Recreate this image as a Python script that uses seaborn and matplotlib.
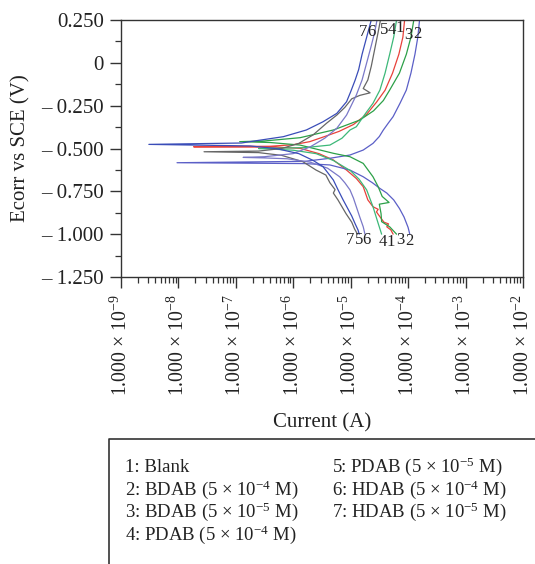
import numpy as np
import pandas as pd
import matplotlib
matplotlib.use("Agg")
import matplotlib.pyplot as plt
import seaborn as sns
from matplotlib.ticker import MultipleLocator, LogLocator, FixedLocator, NullFormatter
from matplotlib.lines import Line2D

# ---------------- data (log10 current in A, potential in V vs SCE) ----------------
curve_ids = ["1", "2", "3", "4", "5", "6", "7"]
curve_colors = ["#e8413a", "#5b5fc7", "#2ca048", "#3cb878", "#666666", "#7a78c8", "#3a4db8"]

logI_1 = [-4.26, -4.30, -4.37, -4.34, -4.42, -4.49, -4.55, -4.52, -4.61, -4.70, -4.78, -4.90,
          -5.07, -5.30, -5.55, -5.88, -6.3, -7.73, -6.4, -6.0, -5.71, -5.45, -5.20, -4.95, -4.72,
          -4.55, -4.40, -4.27, -4.16, -4.09, -4.06]
E_1 = [-1.0, -0.975, -0.957, -0.94, -0.93, -0.898, -0.87, -0.855, -0.84, -0.80, -0.723, -0.675,
       -0.626, -0.567, -0.53, -0.499, -0.492, -0.49, -0.487, -0.478, -0.46, -0.43, -0.40, -0.36,
       -0.30, -0.23, -0.16, -0.06, 0.05, 0.15, 0.25]

logI_2 = [-3.97, -4.00, -4.07, -4.15, -4.25, -4.37, -4.49, -4.62, -4.78, -5.01, -5.36, -5.8,
          -8.02, -5.8, -5.36, -5.01, -4.78, -4.61, -4.50, -4.43, -4.34, -4.26, -4.14, -4.03, -3.95,
          -3.88, -3.83, -3.80]
E_2 = [-1.0, -0.96, -0.90, -0.85, -0.80, -0.76, -0.733, -0.70, -0.665, -0.626, -0.596, -0.588,
       -0.583, -0.575, -0.557, -0.538, -0.509, -0.47, -0.43, -0.392, -0.35, -0.314, -0.236,
       -0.159, -0.06, 0.05, 0.15, 0.25]

logI_3 = [-4.20, -4.32, -4.46, -4.47, -4.50, -4.33, -4.45, -4.52, -4.61, -4.78, -5.01, -5.30,
          -5.88, -6.4, -6.93, -6.5, -5.88, -5.30, -4.84, -4.60, -4.43, -4.32, -4.15, -4.03, -3.95,
          -3.90]
E_3 = [-1.0, -0.957, -0.927, -0.88, -0.825, -0.815, -0.78, -0.723, -0.665, -0.587, -0.548,
       -0.528, -0.48, -0.465, -0.46, -0.456, -0.437, -0.392, -0.334, -0.28, -0.22, -0.159, -0.06,
       0.05, 0.15, 0.25]

logI_4 = [-4.46, -4.52, -4.61, -4.72, -4.85, -5.0, -5.3, -5.6, -6.0, -6.4, -6.6, -5.8, -5.36,
          -5.15, -5.01, -4.90, -4.75, -4.61, -4.49, -4.40, -4.32, -4.25, -4.20]
E_4 = [-1.0, -0.937, -0.84, -0.742, -0.68, -0.63, -0.57, -0.53, -0.51, -0.503, -0.50, -0.495,
       -0.48, -0.44, -0.392, -0.373, -0.30, -0.236, -0.159, -0.06, 0.05, 0.15, 0.25]

logI_5 = [-4.88, -4.93, -4.98, -5.08, -5.15, -5.22, -5.30, -5.27, -5.36, -5.43, -5.6, -5.83,
          -6.2, -6.6, -7.55, -6.6, -6.2, -5.9, -5.65, -5.42, -5.24, -5.10, -4.98, -4.84, -4.66,
          -4.78, -4.70, -4.64, -4.58, -4.52, -4.48]
E_5 = [-1.0, -0.97, -0.93, -0.88, -0.84, -0.80, -0.76, -0.74, -0.70, -0.655, -0.626, -0.577,
       -0.54, -0.524, -0.519, -0.515, -0.50, -0.47, -0.42, -0.353, -0.305, -0.26, -0.21, -0.19,
       -0.175, -0.15, -0.10, -0.02, 0.08, 0.18, 0.25]

logI_6 = [-4.75, -4.78, -4.84, -4.90, -4.95, -5.01, -5.10, -5.19, -5.4, -5.7, -6.1, -6.5, -6.87,
          -6.5, -6.0, -5.7, -5.45, -5.24, -5.07, -4.90, -4.80, -4.72, -4.64, -4.58, -4.54]
E_6 = [-1.0, -0.957, -0.90, -0.84, -0.79, -0.742, -0.70, -0.665, -0.615, -0.58, -0.56, -0.555,
       -0.552, -0.548, -0.53, -0.49, -0.44, -0.382, -0.305, -0.188, -0.10, 0.0, 0.10, 0.18, 0.25]

logI_7 = [-4.85, -4.87, -4.92, -4.98, -5.05, -5.13, -5.22, -5.30, -5.40, -5.48, -5.65, -5.9,
          -6.3, -6.75, -8.51, -6.9, -6.75, -6.17, -5.77, -5.48, -5.24, -5.07, -5.00, -4.92, -4.86,
          -4.80, -4.72, -4.64]
E_7 = [-1.0, -0.976, -0.94, -0.894, -0.85, -0.80, -0.74, -0.684, -0.64, -0.606, -0.57, -0.53,
       -0.50, -0.485, -0.476, -0.468, -0.46, -0.431, -0.392, -0.344, -0.295, -0.227, -0.17, -0.10,
       -0.04, 0.05, 0.15, 0.25]

# curve number annotations (log10 current, potential)
top_label_logI = [-4.14, -3.83, -4.00, -4.28, -4.42, -4.63, -4.79]
top_label_E = [0.205, 0.170, 0.160, 0.190, 0.190, 0.180, 0.180]
bot_label_logI = [-4.30, -3.97, -4.14, -4.44, -4.86, -4.72, -5.01]
bot_label_E = [-1.045, -1.040, -1.034, -1.045, -1.034, -1.032, -1.034]

ytick_values = [0.25, 0.0, -0.25, -0.5, -0.75, -1.0, -1.25]
ytick_labels = ["0.250", "0", "\u2013 0.250", "\u2013 0.500", "\u2013 0.750", "\u2013 1.000", "\u2013 1.250"]
xtick_exponents = [-9, -8, -7, -6, -5, -4, -3, -2]

legend_left = ["1: Blank", "2: BDAB (5 \u00d7 10$^{-4}$ M)", "3: BDAB (5 \u00d7 10$^{-5}$ M)",
               "4: PDAB (5 \u00d7 10$^{-4}$ M)"]
legend_right = ["5: PDAB (5 \u00d7 10$^{-5}$ M)", "6: HDAB (5 \u00d7 10$^{-4}$ M)",
                "7: HDAB (5 \u00d7 10$^{-5}$ M)"]

all_logI = [logI_1, logI_2, logI_3, logI_4, logI_5, logI_6, logI_7]
all_E = [E_1, E_2, E_3, E_4, E_5, E_6, E_7]

# ---------------- style ----------------
sns.set_theme(style="ticks")
plt.rcParams["font.family"] = ["Liberation Serif", "DejaVu Serif"]
plt.rcParams["mathtext.fontset"] = "custom"
plt.rcParams["mathtext.rm"] = "Liberation Serif"
plt.rcParams["mathtext.it"] = "Liberation Serif:italic"
plt.rcParams["mathtext.bf"] = "Liberation Serif:bold"
plt.rcParams["mathtext.fallback"] = "stix"
plt.rcParams["mathtext.default"] = "regular"

W, H = 535, 564
fig = plt.figure(figsize=(W / 100, H / 100), dpi=100)
ax_l, ax_r, ax_t, ax_b = 120.7, 523.0, 20.0, 277.0
ax = fig.add_axes([ax_l / W, 1 - ax_b / H, (ax_r - ax_l) / W, (ax_b - ax_t) / H])

for cid, col, li, ee in zip(curve_ids, curve_colors, all_logI, all_E):
    df = pd.DataFrame({"current": np.power(10.0, np.array(li)), "E": ee})
    sns.lineplot(data=df, x="current", y="E", sort=False, estimator=None, color=col,
                 linewidth=0.9, ax=ax, legend=False)

ax.set_xscale("log")
ax.set_xlim(1e-9, 1e-2)
ax.set_ylim(-1.25, 0.25)

for cid, li, ee in zip(curve_ids, top_label_logI, top_label_E):
    ax.text(10 ** li, ee, cid, ha="center", va="center", fontsize=12, color="#222222")
for cid, li, ee in zip(curve_ids, bot_label_logI, bot_label_E):
    ax.text(10 ** li, ee, cid, ha="center", va="center", fontsize=12, color="#222222")

ax.yaxis.set_major_locator(FixedLocator(ytick_values))
ax.set_yticklabels(ytick_labels)
ax.yaxis.set_minor_locator(MultipleLocator(0.125))
ax.xaxis.set_major_locator(FixedLocator([10.0 ** e for e in xtick_exponents]))
ax.set_xticklabels(["1.000 \u00d7 10$^{%d}$" % e for e in xtick_exponents], rotation=90)
ax.xaxis.set_minor_locator(LogLocator(base=10, subs=np.arange(2, 10), numticks=20))
ax.xaxis.set_minor_formatter(NullFormatter())

for s in ["top", "right", "left", "bottom"]:
    ax.spines[s].set_visible(True)
    ax.spines[s].set_color("#333333")
    ax.spines[s].set_linewidth(1.0)
ax.tick_params(axis="both", which="major", direction="out", length=8, width=1.0,
               color="#333333", labelsize=15, labelcolor="#222222")
ax.tick_params(axis="x", which="major", labelsize=14.3)
ax.tick_params(axis="both", which="minor", direction="out", length=4, width=0.9, color="#333333")
ax.tick_params(axis="y", which="major", pad=4)
ax.tick_params(axis="x", which="major", pad=4)
ax.set_xlabel("")
ax.set_ylabel("")

fig.text(322 / W, 1 - 423 / H, "Current (A)", ha="center", va="center", fontsize=15, color="#222222")
fig.text(20.5 / W, 1 - 148 / H, "Ecorr vs SCE (V)", ha="center", va="center", rotation=90,
         fontsize=15, color="#222222")

# legend-like box
fig.add_artist(Line2D([108.5 / W, 108.5 / W, 1.02], [-0.02, 1 - 439 / H, 1 - 439 / H],
                      transform=fig.transFigure, color="#333333", linewidth=1.2))
row_base = [472, 494.7, 517.4, 540.1]
for i, t in enumerate(legend_left):
    fig.text(125 / W, 1 - row_base[i] / H, t, ha="left", va="baseline", fontsize=13.5, color="#222222")
for i, t in enumerate(legend_right):
    fig.text(331.5 / W, 1 - row_base[i] / H, t, ha="left", va="baseline", fontsize=13.5, color="#222222")

fig.savefig("out.png", dpi=100)
